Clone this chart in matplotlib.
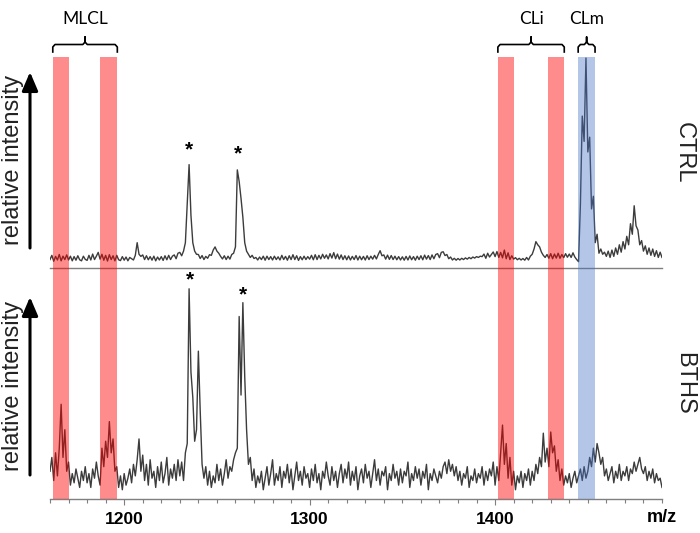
import numpy as np
import matplotlib
matplotlib.use("Agg")
import matplotlib.pyplot as plt
from matplotlib.ticker import MultipleLocator
from matplotlib.transforms import blended_transform_factory

# m/z axis starts here, one value per m/z unit
mz_start = 1160

# CTRL spectrum (relative intensity, % of panel height)
ctrl = [
    4.0, 6.0, 3.2, 5.5, 3.8, 6.4, 3.4, 5.6, 4.0, 6.2,
    3.8, 5.6, 3.4, 5.4, 3.7, 5.8, 3.9, 3.4, 5.6, 4.1,
    3.6, 6.0, 3.8, 6.6, 4.0, 5.6, 7.4, 4.2, 6.5, 3.7,
    6.0, 3.3, 6.3, 4.0, 5.8, 3.4, 6.0, 3.9, 3.5, 5.4,
    3.7, 5.2, 3.4, 5.0, 4.4, 3.8, 6.0, 12.0, 6.5, 5.5,
    6.2, 4.0, 5.8, 3.9, 5.4, 3.7, 5.6, 3.4, 5.2, 3.8,
    5.4, 3.6, 5.8, 3.9, 6.0, 4.0, 5.6, 6.2, 4.4, 7.0,
    7.4, 5.8, 8.0, 12.0, 30.0, 49.0, 25.0, 12.0, 8.0, 6.5,
    6.4, 4.5, 5.9, 4.0, 5.5, 4.6, 6.3, 6.0, 8.5, 10.0,
    8.0, 7.0, 5.5, 4.3, 5.8, 4.0, 5.6, 4.2, 6.4, 7.0,
    10.0, 46.5, 41.0, 33.0, 24.0, 12.0, 8.0, 6.5, 5.0, 6.0,
    4.5, 5.0, 3.8, 5.2, 4.0, 5.6, 3.7, 5.6, 4.0, 5.4,
    3.8, 5.6, 4.0, 5.3, 3.8, 6.0, 4.0, 5.5, 3.7, 5.8,
    4.0, 6.3, 4.0, 5.8, 3.6, 5.4, 3.9, 5.6, 4.0, 5.4,
    4.2, 6.0, 3.9, 6.3, 4.0, 6.0, 4.3, 6.5, 4.6, 6.2,
    4.3, 6.8, 4.7, 7.3, 4.4, 6.6, 4.2, 6.2, 4.0, 5.8,
    3.9, 5.7, 3.8, 5.5, 4.0, 5.9, 3.8, 5.6, 3.9, 5.5,
    3.8, 5.8, 4.0, 5.6, 4.2, 6.0, 4.3, 6.4, 8.2, 5.8,
    6.2, 4.2, 6.1, 4.1, 5.9, 4.0, 5.6, 3.9, 5.4, 3.8,
    5.3, 3.7, 5.5, 3.8, 5.7, 3.9, 5.4, 3.7, 5.6, 4.0,
    5.8, 3.9, 6.1, 4.2, 5.9, 4.0, 6.2, 4.4, 6.4, 6.8,
    4.9, 7.4, 7.7, 5.9, 6.4, 4.4, 5.2, 3.8, 4.6, 3.7,
    4.5, 3.8, 4.6, 4.0, 4.8, 4.2, 5.0, 4.4, 5.2, 4.7,
    5.4, 5.0, 5.6, 5.4, 6.6, 4.6, 7.0, 5.2, 6.4, 7.6,
    5.4, 7.8, 5.0, 7.4, 4.8, 8.5, 4.4, 7.2, 4.0, 5.8,
    4.2, 4.9, 3.9, 4.6, 3.8, 4.5, 3.7, 5.0, 3.8, 5.6,
    6.5, 9.0, 12.5, 11.0, 10.0, 7.5, 6.0, 5.0, 6.4, 4.6,
    6.8, 4.4, 6.6, 4.7, 7.0, 4.6, 6.4, 4.9, 6.8, 5.1,
    6.6, 5.0, 7.2, 5.2, 4.0, 3.0, 30.0, 72.0, 60.0, 99.5,
    55.0, 62.0, 28.0, 34.0, 12.0, 16.0, 7.0, 9.0, 6.5, 7.5,
    5.5, 8.0, 5.0, 8.5, 5.5, 9.5, 6.5, 11.0, 7.5, 12.5,
    9.0, 15.0, 11.0, 21.0, 16.0, 29.5, 20.0, 18.0, 11.0, 13.0,
    8.0, 10.5, 6.5, 9.5, 6.0, 9.0, 5.5, 8.2, 5.0, 7.5,
    5.0,
]

# BTHS spectrum
bths = [
    12, 18, 8, 20, 10, 22, 41, 18, 30, 12,
    16, 6, 11, 7, 13, 9, 5, 12, 8, 14,
    7, 11, 5, 13, 9, 16, 10, 6, 22, 14,
    25, 18, 33.5, 20, 26, 12, 14, 5, 10, 4,
    11, 6, 9, 13, 7, 15, 10, 17, 26, 12,
    19, 8, 15, 6, 17, 9, 12, 5, 14, 8,
    16, 7, 11, 18, 6, 13, 9, 15, 8, 17,
    10, 16, 8, 20, 24, 91, 55, 44, 25, 30,
    64, 38, 15, 9, 14, 6, 12, 5, 10, 7,
    15, 8, 13, 6, 11, 17, 9, 14, 12, 17,
    20, 22, 79, 45, 85, 53, 30, 15, 18, 8,
    13, 5, 10, 7, 12, 4, 9, 14, 6, 11,
    17, 6, 11, 8, 14, 5, 12, 9, 15, 7,
    13, 4, 10, 16, 8, 12, 6, 14, 9, 11,
    5, 13, 8, 15, 7, 11, 4, 12, 9, 16,
    10, 6, 14, 8, 12, 5, 11, 15, 7, 13,
    9, 16, 6, 12, 8, 14, 4, 10, 13, 7,
    15, 9, 12, 5, 11, 17, 8, 13, 6, 12,
    10, 14, 4, 11, 8, 15, 9, 12, 6, 13,
    7, 12, 10, 16, 5, 11, 8, 14, 9, 13,
    6, 12, 9, 15, 4, 11, 8, 13, 10, 7,
    12, 9, 14, 16, 11, 17, 12, 15, 10, 14,
    8, 12, 6, 11, 9, 14, 5, 10, 8, 13,
    7, 11, 9, 14, 6, 12, 8, 13, 10, 16,
    6, 14, 8, 20, 32, 15, 24, 9, 18, 6,
    12, 4, 10, 7, 12, 5, 11, 8, 13, 6,
    12, 8, 15, 11, 18, 14, 28.5, 16, 22, 14,
    29, 20, 23, 12, 17, 8, 13, 6, 10, 7,
    11, 5, 9, 12, 7, 10, 13, 8, 14, 9,
    12, 18, 14, 22, 16, 24, 20, 15, 18, 10,
    13, 8, 11, 14, 7, 12, 9, 15, 8, 12,
    10, 14, 8, 13, 11, 16, 12, 15, 18, 13,
    11, 14, 8, 12, 9, 13, 7, 11, 8, 9,
    5,
]

panel_names = ["CTRL", "BTHS"]

# highlighted m/z windows
red_bands = [(1161.5, 1170.3), (1187.0, 1196.3), (1401.5, 1410.2), (1428.6, 1437.3)]
blue_bands = [(1444.8, 1453.9)]

# bracket groups: label, left, right
groups = [("MLCL", 1161.5, 1196.3), ("CLi", 1401.5, 1437.3), ("CLm", 1444.8, 1453.9)]

# asterisks on the internal standard peaks (m/z, height) per panel
stars_ctrl = [(1235.2, 56), (1261.3, 54)]
stars_bths = [(1235.7, 95), (1263.8, 88.5)]

xticks_major = [1200, 1300, 1400]

W, H = 700, 533
narrow = ["Liberation Sans Narrow", "Liberation Sans"]


def fx(px):
    return px / W


def fy(py):
    return 1 - py / H


fig = plt.figure(figsize=(7, 5.33), dpi=100)
ax1 = fig.add_axes([fx(50), fy(268), 612 / W, 211 / H])
ax2 = fig.add_axes([fx(50), fy(499), 612 / W, 231 / H])

x = np.arange(mz_start, mz_start + len(ctrl))
x2 = np.arange(mz_start, mz_start + len(bths))

ax1.plot(x, ctrl, color="#3c3c3c", lw=1.0, zorder=2)
ax2.plot(x2, bths, color="#3c3c3c", lw=1.0, zorder=2)

for ax in (ax1, ax2):
    ax.set_xlim(1160, 1490)
    ax.set_ylim(0, 100)
    for a, b in red_bands:
        ax.axvspan(a, b, color="#ff0000", alpha=0.45, lw=0, zorder=3)
    for a, b in blue_bands:
        ax.axvspan(a, b, color="#4472c4", alpha=0.4, lw=0, zorder=3)
    ax.set_yticks([])
    for s in ("top", "left", "right"):
        ax.spines[s].set_visible(False)
    ax.spines["bottom"].set_color("#7f7f7f")
    ax.spines["bottom"].set_linewidth(1.0)
    ax.patch.set_alpha(0)

ax1.set_xticks([])

ax2.set_xticks(xticks_major, labels=[str(t) for t in xticks_major],
               fontsize=12.5, fontweight="bold", fontfamily=narrow)
ax2.xaxis.set_minor_locator(MultipleLocator(10))
ax2.tick_params(axis="x", which="major", length=4, width=0.8, color="#7f7f7f", pad=5)
ax2.tick_params(axis="x", which="minor", length=3, width=0.8, color="#7f7f7f")

fig.text(fx(662), fy(517), "m/z", ha="center", va="center", fontsize=13,
         fontweight="bold", family=narrow)

# asterisks
for ax, stars in ((ax1, stars_ctrl), (ax2, stars_bths)):
    for sx, sy in stars:
        ax.text(sx, sy, "*", ha="center", va="center", fontsize=15,
                fontweight="bold", family="Liberation Sans", color="black")

# y labels with arrows
for y0, y1 in ((248, 72), (475, 297)):
    fig.text(fx(13), fy((y0 + y1) / 2), "relative intensity", rotation=90,
             ha="center", va="center", fontsize=17, family="Liberation Sans",
             color="#222222")
    ax1.annotate("", xy=(fx(30), fy(y1)), xytext=(fx(30), fy(y0)),
                 xycoords="figure fraction", textcoords="figure fraction",
                 arrowprops=dict(arrowstyle="-|>,head_length=0.75,head_width=0.32",
                                 lw=2.2, color="black", mutation_scale=15,
                                 shrinkA=0, shrinkB=0))

# panel names on the right
for name, yc in zip(panel_names, (153, 383)):
    fig.text(fx(684), fy(yc), name, rotation=270, ha="center", va="center",
             fontsize=17, family="Liberation Sans", color="#222222")

# brackets above the bands
tr = blended_transform_factory(ax1.transData, fig.transFigure)
for label, a, b in groups:
    c = (a + b) / 2
    r = 1.2
    bx = [a, a, a + r, c - r, c, c, c, c + r, b - r, b, b]
    by = [52, 47, 44.5, 44.5, 42, 37, 42, 44.5, 44.5, 47, 52]
    ax1.plot(bx, [fy(v) for v in by], transform=tr, color="black", lw=1.2,
             clip_on=False, solid_joinstyle="round")
    fig.text(fx(50 + (c - 1160) / 330 * 612), fy(19), label, ha="center",
             va="center", fontsize=12.5, family="Lato", color="black")

fig.savefig("out.png", dpi=100)
